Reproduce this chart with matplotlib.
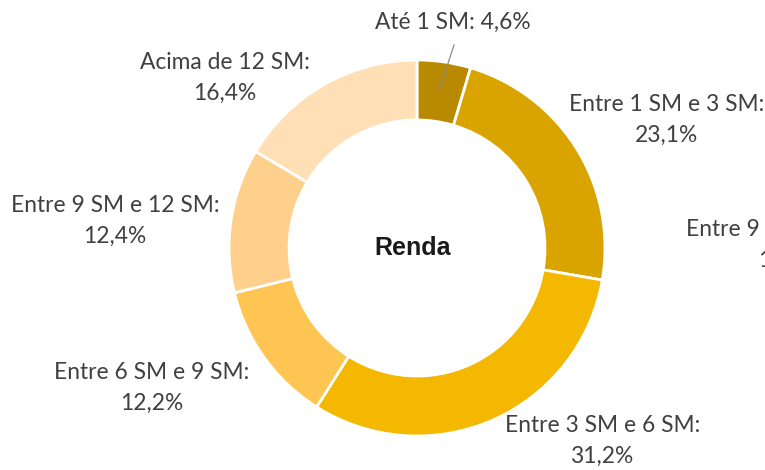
import matplotlib
matplotlib.use("Agg")
import matplotlib.pyplot as plt

categories = ["Até 1 SM", "Entre 1 SM e 3 SM", "Entre 3 SM e 6 SM",
              "Entre 6 SM e 9 SM", "Entre 9 SM e 12 SM", "Acima de 12 SM"]
values = [4.6, 23.1, 31.2, 12.2, 12.4, 16.4]
colors = ["#B98A00", "#D9A300", "#F4B800", "#FFC553", "#FFD08C", "#FFE0B6"]
center_title = "Renda"

W, H = 765, 470
fig = plt.figure(figsize=(W / 100, H / 100), dpi=100)
ax = fig.add_axes([0, 0, 1, 1])
ax.set_xlim(0, W)
ax.set_ylim(0, H)
ax.set_aspect("equal")
ax.axis("off")

def Y(ypx):
    return H - ypx

cx, cy, R = 417, Y(248), 188
ax.pie(values, colors=colors, startangle=90, counterclock=False,
       center=(cx, cy), radius=R,
       wedgeprops=dict(width=60, edgecolor="white", linewidth=2))
ax.set_xlim(0, W)
ax.set_ylim(0, H)

font = ["Lato", "DejaVu Sans"]
tc = "#404040"
fs = 16.4

def lab(i, x, y, one_line=False):
    v = f"{values[i]:.1f}".replace(".", ",") + "%"
    txt = f"{categories[i]}: {v}" if one_line else f"{categories[i]}:\n{v}"
    ax.text(x, Y(y), txt, ha="center", va="center", fontsize=fs,
            color=tc, family=font, linespacing=1.6)

lab(0, 453, 22, one_line=True)
lab(1, 667, 120)
lab(2, 603, 441)
lab(3, 152, 388)
lab(4, 115, 221)
lab(5, 225, 78)
# clipped label from neighbouring chart at the right edge
lab(4, 790, 245)

ax.plot([454, 440], [Y(45), Y(88)], color="#8C8C8C", linewidth=0.9)

ax.text(413, Y(248), center_title, ha="center", va="center", fontsize=18,
        fontweight="bold", family=["Liberation Sans", "DejaVu Sans"], color="#1a1a1a")

fig.savefig("out.png", dpi=100)
